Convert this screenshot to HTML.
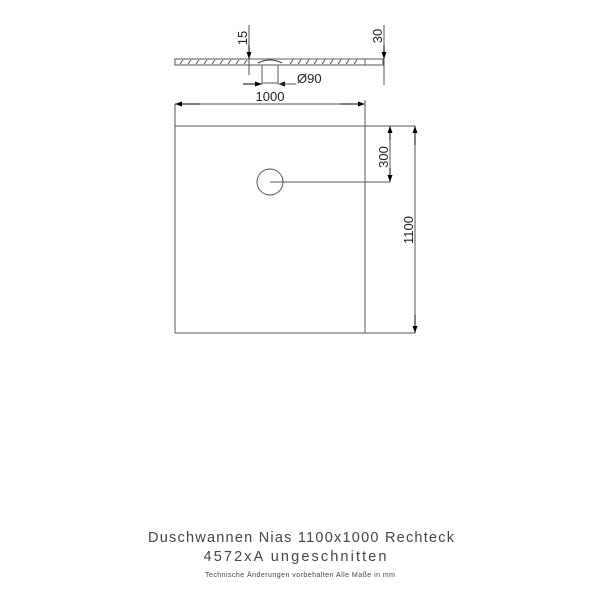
<!DOCTYPE html>
<html><head><style>body{margin:0;background:#fff}svg{display:block}</style></head><body>
<svg width="600" height="600" viewBox="0 0 600 600" xmlns="http://www.w3.org/2000/svg" font-family="Liberation Sans, sans-serif">
<defs><marker id="a" markerWidth="7" markerHeight="5" refX="7" refY="2.5" orient="auto"><path d="M0,0 L7,2.5 L0,5 z" fill="#000"/></marker></defs>
<g stroke="#555" stroke-width="1" fill="none">
<rect x="175" y="59" width="208" height="6" fill="#fff"/>
<g stroke="#333" stroke-width="0.8">
<path d="M180,64l3,-4M188,64l3,-4M196,64l3,-4M204,64l3,-4M212,64l3,-4M220,64l3,-4M228,64l3,-4M236,64l3,-4M244,64l3,-4M290,64l3,-4M298,64l3,-4M306,64l3,-4M314,64l3,-4M322,64l3,-4M330,64l3,-4M338,64l3,-4M346,64l3,-4M354,64l3,-4"/>
</g>
<path d="M258,63 Q270,57 282,63" stroke="#333"/>
<line x1="365" y1="59" x2="365" y2="65"/>
<rect x="262" y="65" width="16" height="18" fill="#fff"/>
<line x1="249" y1="25" x2="249" y2="75"/>
<line x1="249" y1="45" x2="249" y2="59" marker-end="url(#a)" stroke="#000"/>
<line x1="384" y1="25" x2="384" y2="85"/>
<line x1="384" y1="45" x2="384" y2="59" marker-end="url(#a)" stroke="#000"/>
<line x1="243" y1="84" x2="262" y2="84" marker-end="url(#a)" stroke="#000"/>
<line x1="296" y1="84" x2="278" y2="84" marker-end="url(#a)" stroke="#000"/>
<line x1="278" y1="84" x2="296" y2="84"/>
<line x1="175" y1="104" x2="175" y2="333"/>
<line x1="200" y1="104" x2="175" y2="104" marker-end="url(#a)" stroke="#000"/>
<line x1="340" y1="104" x2="365" y2="104" marker-end="url(#a)" stroke="#000"/>
<line x1="200" y1="104" x2="340" y2="104"/>
<line x1="365" y1="100" x2="365" y2="333"/>
<line x1="175" y1="126" x2="415" y2="126"/>
<line x1="175" y1="333" x2="415" y2="333"/>
<circle cx="270" cy="182" r="13"/>
<line x1="270" y1="182" x2="390" y2="182"/>
<line x1="390" y1="126" x2="390" y2="182"/>
<line x1="390" y1="140" x2="390" y2="126" marker-end="url(#a)" stroke="#000"/>
<line x1="390" y1="168" x2="390" y2="182" marker-end="url(#a)" stroke="#000"/>
<line x1="415" y1="126" x2="415" y2="333"/>
<line x1="415" y1="145" x2="415" y2="126" marker-end="url(#a)" stroke="#000"/>
<line x1="415" y1="315" x2="415" y2="333" marker-end="url(#a)" stroke="#000"/>
</g>
<g fill="#222" font-size="13">
<text x="247" y="38" transform="rotate(-90 247 38)" text-anchor="middle">15</text>
<text x="382" y="36" transform="rotate(-90 382 36)" text-anchor="middle">30</text>
<text x="297" y="83">Ø90</text>
<text x="270" y="101" text-anchor="middle">1000</text>
<text x="388" y="157" transform="rotate(-90 388 157)" text-anchor="middle">300</text>
<text x="413" y="230" transform="rotate(-90 413 230)" text-anchor="middle">1100</text>
</g>
<g fill="#444" font-family="Liberation Sans, DejaVu Sans, sans-serif" text-anchor="middle">
<text x="301" y="542" font-size="14.5" textLength="306" lengthAdjust="spacing">Duschwannen Nias 1100x1000 Rechteck</text>
<text x="295" y="561" font-size="14.5" textLength="183" lengthAdjust="spacing">4572xA ungeschnitten</text>
<text x="300" y="577" font-size="7" textLength="190" lengthAdjust="spacing">Technische Änderungen vorbehalten  Alle Maße in mm</text>
</g>
</svg>
</body></html>
